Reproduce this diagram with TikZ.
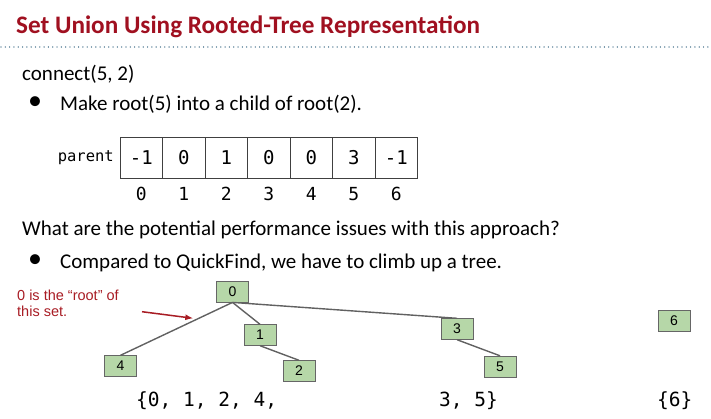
\documentclass[tikz,border=0pt]{standalone}
\usepackage{fontspec}
\setmainfont{Carlito}
\newfontfamily\monofont{DejaVu Sans Mono}
\newfontfamily\arialfont{Liberation Sans}
\usetikzlibrary{arrows.meta}
\definecolor{titlered}{RGB}{160,16,32}
\definecolor{notered}{RGB}{168,28,36}
\definecolor{dotblue}{RGB}{110,145,165}
\definecolor{boxgreen}{HTML}{B6D7A8}
\definecolor{boxline}{HTML}{666666}

\begin{document}
\begin{tikzpicture}[x=1pt,y=-1pt,
    body/.style={anchor=base west, inner sep=0pt, font=\fontsize{21}{25}\selectfont},
    bul/.style={inner sep=0pt, font=\fontsize{28}{30}\selectfont},
    cell/.style={draw=black!75, minimum width=42.5pt, minimum height=41pt, inner sep=0pt, outer sep=0pt, font=\monofont\fontsize{19}{22}\selectfont},
    idx/.style={anchor=base, inner sep=0pt, font=\monofont\fontsize{18}{21}\selectfont},
    tnode/.style={draw=boxline, fill=boxgreen, minimum width=32pt, minimum height=21pt, inner sep=0pt, font=\arialfont\fontsize{14}{16}\selectfont},
    link/.style={draw=black!62, line width=1.4pt},
    setlbl/.style={anchor=base west, inner sep=0pt, font=\monofont\fontsize{19.5}{22}\selectfont}]
      \useasboundingbox (0,0) rectangle (711,418);

      % title
      \node[anchor=base west, inner sep=0pt, text=titlered, font=\bfseries\fontsize{25.2}{29}\selectfont] (title) at (16,33) {Set Union Using Rooted-Tree Representation};
      \draw[dotblue, line width=1.4pt, dash pattern=on 0.01pt off 4.3pt, line cap=round] (1,47) -- (711,47);

      \node[body] (conn) at (22,80) {connect(5, 2)};
      \node[bul] (b1) at (35,103) {\textbullet};
      \node[body] (make) at (60,110) {Make root(5) into a child of root(2).};

      % parent array
      \node[anchor=base east, inner sep=0pt, font=\monofont\fontsize{15.5}{18}\selectfont] (parent) at (114,161.5) {parent};
      \node[cell] (c0) at (141.25,157.8) {-1};
      \node[cell] (c1) at (183.75,157.8) {0};
      \node[cell] (c2) at (226.25,157.8) {1};
      \node[cell] (c3) at (268.75,157.8) {0};
      \node[cell] (c4) at (311.25,157.8) {0};
      \node[cell] (c5) at (353.75,157.8) {3};
      \node[cell] (c6) at (396.25,157.8) {-1};
      \node[idx] (i0) at (141.25,200.7) {0};
      \node[idx] (i1) at (183.75,200.7) {1};
      \node[idx] (i2) at (226.25,200.7) {2};
      \node[idx] (i3) at (268.75,200.7) {3};
      \node[idx] (i4) at (311.25,200.7) {4};
      \node[idx] (i5) at (353.75,200.7) {5};
      \node[idx] (i6) at (396.25,200.7) {6};

      \node[body] (what) at (22,235) {What are the potential performance issues with this approach?};
      \node[bul] (b2) at (35,261) {\textbullet};
      \node[body] (comp) at (60,268) {Compared to QuickFind, we have to climb up a tree.};

      % tree
      \node[tnode] (n0) at (232.5,291.7) {0};
      \node[tnode] (n1) at (260,335) {1};
      \node[tnode] (n4) at (120.5,366) {4};
      \node[tnode] (n2) at (299,371) {2};
      \node[tnode] (n3) at (457,329) {3};
      \node[tnode] (n5) at (500,366.5) {5};
      \node[tnode] (n6) at (674,321) {6};
      \draw[link] (n0.south) -- (n4.north);
      \draw[link] (n0.south) -- (n1.north);
      \draw[link] (n1.south) -- (n2.north);
      \draw[link] (n0.south) -- (n3.north);
      \draw[link] (n3.south) -- (n5.north);

      % note
      \node[anchor=base west, inner sep=0pt, align=left, text=notered, font=\arialfont\fontsize{14.5}{16}\selectfont] (note) at (17,316.7) {0 is the “root” of\\this set.};
      \coordinate (tipA) at (142,311.7);
      \coordinate (tipB) at (193.3,318.3);
      \draw[notered, line width=1.5pt, -{Latex[length=8pt,width=6pt]}] (tipA) -- (tipB);

      % sets
      \node[setlbl] (s1) at (136,406) {\{0, 1, 2, 4,};
      \node[setlbl] (s2) at (439,406) {3, 5\}};
      \node[setlbl] (s3) at (657,406) {\{6\}};
    \end{tikzpicture}
\end{document}
